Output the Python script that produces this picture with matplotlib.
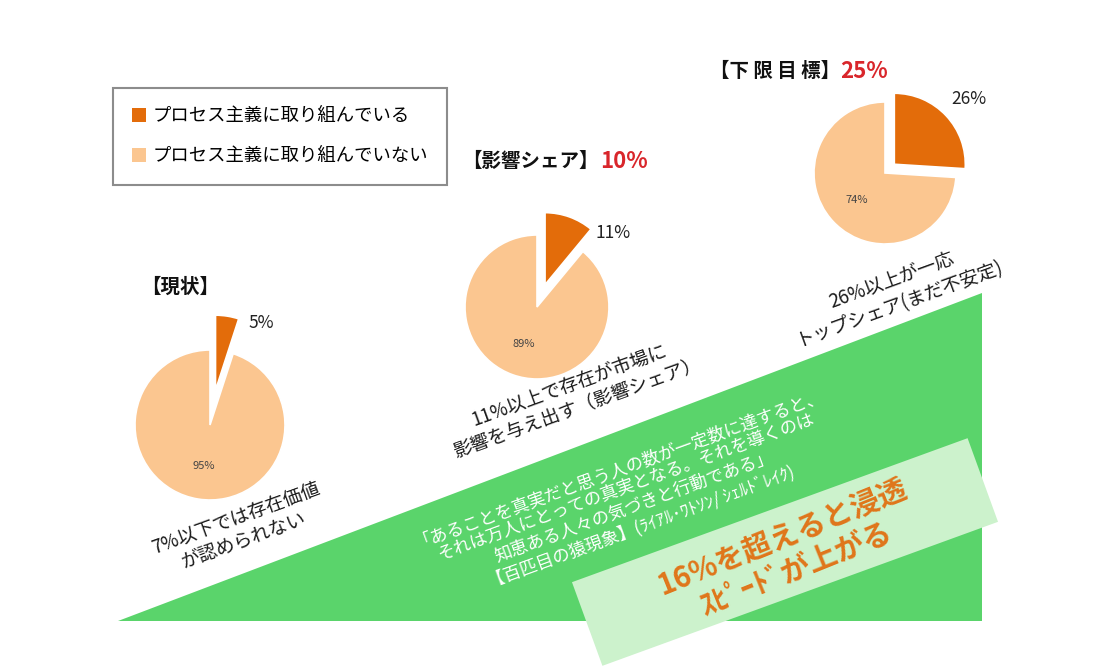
import numpy as np
import matplotlib.pyplot as plt
from matplotlib.patches import Polygon, Patch

plt.rcParams['font.family'] = ['Noto Sans CJK JP', 'DejaVu Sans']

# データ
shares = [5, 11, 26]          # プロセス主義に取り組んでいる
rest = [95, 89, 74]           # 取り組んでいない
titles = ["【現状】", "【影響シェア】", "【下 限 目 標】"]
targets = ["", "10%", "25%"]
captions = ["7%以下では存在価値\nが認められない",
            "11%以上で存在が市場に\n影響を与え出す（影響シェア）",
            "26%以上が一応\nトップシェア(まだ不安定)"]
legend_labels = ["プロセス主義に取り組んでいる", "プロセス主義に取り組んでいない"]
quote_lines = ["「あることを真実だと思う人の数が一定数に達すると、",
               "それは万人にとっての真実となる。それを導くのは",
               "知恵ある人々の気づきと行動である」",
               "【百匹目の猿現象】(ﾗｲｱﾙ･ﾜﾄｿﾝ/ ｼｪﾙﾄﾞﾚｲｸ)"]
highlight = "16%を超えると浸透\nｽﾋﾟｰﾄﾞが上がる"

ORANGE = "#E36C0A"
LIGHT = "#FBC690"
GREEN = "#5AD46B"
PALE = "#CCF2CC"
RED = "#D9262B"

W, H = 1113, 668
fig = plt.figure(figsize=(W / 100, H / 100), dpi=100)
ax = fig.add_axes([0, 0, 1, 1])
ax.set_xlim(0, W)
ax.set_ylim(H, 0)
ax.axis('off')

# 緑の三角形
ax.add_patch(Polygon([(118, 621), (982, 621), (982, 293)], closed=True,
                     facecolor=GREEN, edgecolor='none', zorder=1))

# 薄い緑の帯（回転した四角）
cx, cy, bw, bh, ang = 785, 552, 421, 89, np.deg2rad(20)
u = np.array([np.cos(ang), -np.sin(ang)])
v = np.array([np.sin(ang), np.cos(ang)])
c = np.array([cx, cy])
corners = [c - u * bw / 2 - v * bh / 2, c + u * bw / 2 - v * bh / 2,
           c + u * bw / 2 + v * bh / 2, c - u * bw / 2 + v * bh / 2]
ax.add_patch(Polygon(corners, closed=True, facecolor=PALE, edgecolor='none', zorder=3))

# 円グラフ
pie_centers = [(210, 425), (537, 307), (885, 173)]
pie_radius = [75, 72, 71]
explodes = [0.47, 0.33, 0.18]
out_label_pos = [(0.68, 1.36), (1.06, 1.03), (1.18, 1.04)]

for i in range(3):
    px, py = pie_centers[i]
    r = pie_radius[i]
    pax = fig.add_axes([(px - 2 * r) / W, (H - py - 2 * r) / H, 4 * r / W, 4 * r / H])
    wedges, texts, autotexts = pax.pie(
        [shares[i], rest[i]], colors=[ORANGE, LIGHT], startangle=90, counterclock=False,
        explode=[explodes[i], 0], autopct=lambda p: '' if p < 50 else '%d%%' % round(p),
        pctdistance=0.55, wedgeprops=dict(edgecolor='white', linewidth=1.2),
        textprops=dict(fontsize=8, color='#444444'))
    pax.set_xlim(-2, 2)
    pax.set_ylim(-2, 2)
    pax.axis('off')
    lx, ly = out_label_pos[i]
    pax.text(lx, ly, f"{shares[i]}%", fontsize=12.5, color='#222222', ha='center', va='center')

# タイトル
title_pos = [(141, 287), (462, 161), (710, 71)]
target_x = [0, 600, 840]
for i in range(3):
    ax.text(title_pos[i][0], title_pos[i][1], titles[i], fontsize=14,
            fontweight='bold', ha='left', va='center', color='#111111', zorder=5)
    if targets[i]:
        ax.text(target_x[i], title_pos[i][1], targets[i], fontsize=16, fontweight='bold',
                color=RED, ha='left', va='center', zorder=5)

# 説明文（斜め）
caption_pos = [(240, 530), (573, 396), (896, 292)]
for i in range(3):
    ax.text(caption_pos[i][0], caption_pos[i][1], captions[i], fontsize=13.5, rotation=20,
            rotation_mode='anchor', ha='center', va='center', multialignment='center',
            color='#1a1a1a', linespacing=1.15, zorder=5)

# 引用文
ax.text(630, 497, "\n".join(quote_lines), fontsize=12.5, rotation=20, rotation_mode='anchor',
        ha='center', va='center', multialignment='center', color='white',
        linespacing=1.25, zorder=4)

# 強調文
ax.text(789, 553, highlight, fontsize=21, fontweight='bold', rotation=22,
        rotation_mode='anchor', ha='center', va='center', multialignment='center',
        color='#E0761A', linespacing=1.2, zorder=5)

# 凡例
handles = [Patch(facecolor=ORANGE, edgecolor='none'), Patch(facecolor=LIGHT, edgecolor='none')]
leg = ax.legend(handles, legend_labels, loc='upper left', bbox_to_anchor=(113 / W, 1 - 88 / H),
                bbox_transform=fig.transFigure, fontsize=13.2, frameon=True, fancybox=False,
                edgecolor='#707070', handlelength=0.75, handleheight=0.75, handletextpad=0.35,
                labelspacing=1.2, borderpad=1.05, borderaxespad=0)
leg.get_frame().set_linewidth(1.5)

fig.savefig("out.png", dpi=100, facecolor='white')
